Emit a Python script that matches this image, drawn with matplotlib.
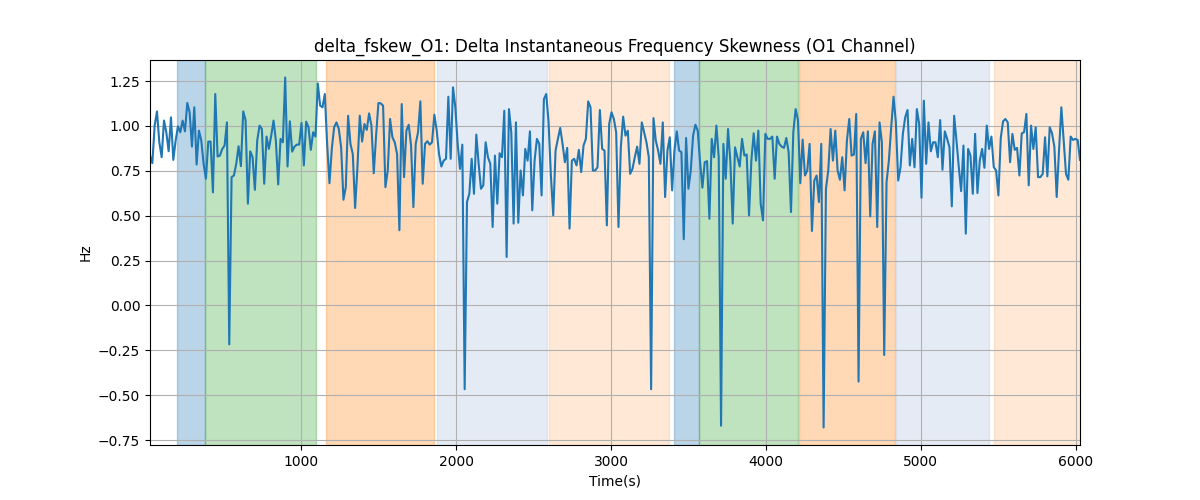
import numpy as np
import matplotlib
matplotlib.use("Agg")
import matplotlib.pyplot as plt

# sampled delta frequency skewness (Hz), one value every ~15 s
hz = [
    0.835, 0.793, 1.002, 1.081, 0.909, 0.826, 1.030, 0.965, 0.859, 1.048,
    0.811, 0.919, 0.998, 0.965, 1.030, 0.970, 1.128, 1.076, 0.885, 1.104,
    0.785, 0.974, 0.919, 0.789, 0.706, 0.913, 0.913, 0.630, 1.178, 0.830,
    0.835, 0.872, 0.891, 1.020, -0.217, 0.715, 0.724, 0.789, 0.887, 0.776,
    1.081, 1.033, 0.567, 0.859, 0.826, 0.644, 0.919, 1.002, 0.983, 0.678,
    0.941,
    0.872, 0.946, 1.030, 0.919, 0.674, 0.928, 0.909, 1.270, 0.774, 1.026,
    0.857, 0.885, 0.896, 0.896, 1.017, 0.780, 1.024, 0.993, 0.867, 0.965,
    0.941, 1.237, 1.113, 1.104, 1.178, 0.900, 0.681, 0.872, 0.993, 1.020,
    0.983, 0.881, 0.589, 0.659, 1.057, 0.900, 0.844, 0.543, 0.770, 1.057,
    0.913, 1.011, 0.978, 1.070, 1.002, 0.737, 0.946, 1.128, 1.126,
    1.113, 0.659, 0.752, 1.039, 0.937, 0.909, 0.844, 0.419, 1.122, 0.715,
    0.974, 1.007, 0.891, 0.548, 0.900, 0.965, 1.137, 0.678, 0.900, 0.915,
    0.896, 0.909, 1.063, 0.974, 0.844, 0.774, 0.807, 0.817, 1.163, 0.817,
    1.215, 1.104, 0.900, 0.761, 0.896, -0.467, 0.576, 0.622, 0.817, 0.622,
    0.952, 0.789, 0.650, 0.669, 0.909, 0.826, 0.789, 0.437, 0.835, 0.567,
    0.848,
    0.826, 1.085, 0.270, 1.094, 0.965, 0.456, 1.020, 0.461, 0.752, 0.613,
    0.872, 0.807, 0.970, 0.530, 0.807, 0.928, 0.900, 0.613, 1.150, 1.178,
    1.020, 0.724, 0.502, 0.863, 0.928, 0.989, 0.900, 0.798, 0.878, 0.428,
    0.807, 0.817, 0.780, 0.867, 0.743, 0.891, 0.928, 1.137, 1.104, 0.752,
    0.752, 0.770, 1.089, 0.872, 0.863, 0.446, 1.011, 1.076, 1.039, 0.965,
    0.437, 0.881, 1.052, 0.946, 0.974, 0.733, 0.761, 0.826, 0.885, 0.789,
    1.020, 0.965, 0.909, 0.826, -0.467, 1.044, 0.919, 0.863, 0.789, 1.020,
    0.604, 0.863, 0.937, 0.641, 0.863, 0.970, 0.863, 0.854, 0.369, 0.933,
    0.650, 0.752, 0.946, 1.007, 0.974, 0.798, 0.656, 0.798, 0.804, 0.483,
    0.928, 0.826, 1.002, 0.826, -0.670, 0.900, 0.706, 0.983, 0.798,
    0.456, 0.881, 0.826, 0.774, 0.928, 0.835, 0.841, 0.502, 0.807, 0.959,
    0.807, 0.974, 0.567, 0.474, 0.956, 0.928, 0.928, 0.941, 0.706, 0.941,
    0.900, 0.885, 0.878, 0.933, 0.854, 0.520, 0.965, 1.094, 1.033, 0.681,
    0.924, 0.724, 0.752, 0.900, 0.415, 0.696, 0.724, 0.576, 0.900, -0.680,
    0.650, 0.752, 0.983, 0.807, 0.974, 0.752, 0.700, 0.826, 0.641, 0.919,
    1.039, 0.835, 0.841, 1.067, -0.424, 0.928, 0.965, 0.793, 0.970, 0.496,
    0.900, 0.970, 0.437, 1.020, 0.909, -0.276, 0.687, 0.807, 0.993, 1.163,
    1.020, 0.696, 0.770, 0.956, 1.048, 1.089, 0.780, 0.928, 0.770, 1.094,
    1.011, 0.600, 1.141, 0.789, 1.020, 0.859, 0.909, 0.909, 0.826, 1.033,
    0.756, 0.970, 0.928, 0.881, 0.552, 1.057, 0.919, 0.770, 0.637, 0.891,
    0.400, 0.872, 0.835, 0.622, 0.956, 0.626, 0.807, 0.872, 0.767, 1.002,
    0.872, 0.941, 0.770, 0.752, 0.613, 0.933, 1.026, 1.039, 1.020, 0.798,
    0.956, 0.867, 0.878, 0.724, 0.959, 0.965, 1.067, 0.669, 1.002, 0.872,
    0.993, 0.715, 0.715, 0.733, 0.937, 0.719, 0.993, 0.959, 0.885, 0.604,
    0.863, 1.104, 0.919, 0.733, 0.700, 0.941, 0.922, 0.928, 0.922, 0.811,
]
t_start = 22
t_end = 6028

# shaded phases
span_starts = [198, 378, 1160, 1876, 2601, 3405, 3565, 4212, 4838, 5472]
span_ends = [376, 1093, 1858, 2584, 3371, 3565, 4204, 4832, 5438, 6100]
span_colors = ["tab:blue", "tab:green", "tab:orange", "lightsteelblue", "tab:orange",
               "tab:blue", "tab:green", "tab:orange", "lightsteelblue", "tab:orange"]
span_alphas = [0.3, 0.3, 0.3, 0.33, 0.17, 0.3, 0.3, 0.3, 0.33, 0.17]

time = np.linspace(t_start, t_end, len(hz))

fig, ax = plt.subplots(figsize=(12, 5))
for s, e, c, a in zip(span_starts, span_ends, span_colors, span_alphas):
    ax.axvspan(s, e, color=c, alpha=a)
ax.plot(time, hz, color="tab:blue")
ax.set_xlim(t_start, t_end)
ax.grid(True)
ax.set_title("delta_fskew_O1: Delta Instantaneous Frequency Skewness (O1 Channel)")
ax.set_xlabel("Time(s)")
ax.set_ylabel("Hz")
plt.savefig("out.png")
